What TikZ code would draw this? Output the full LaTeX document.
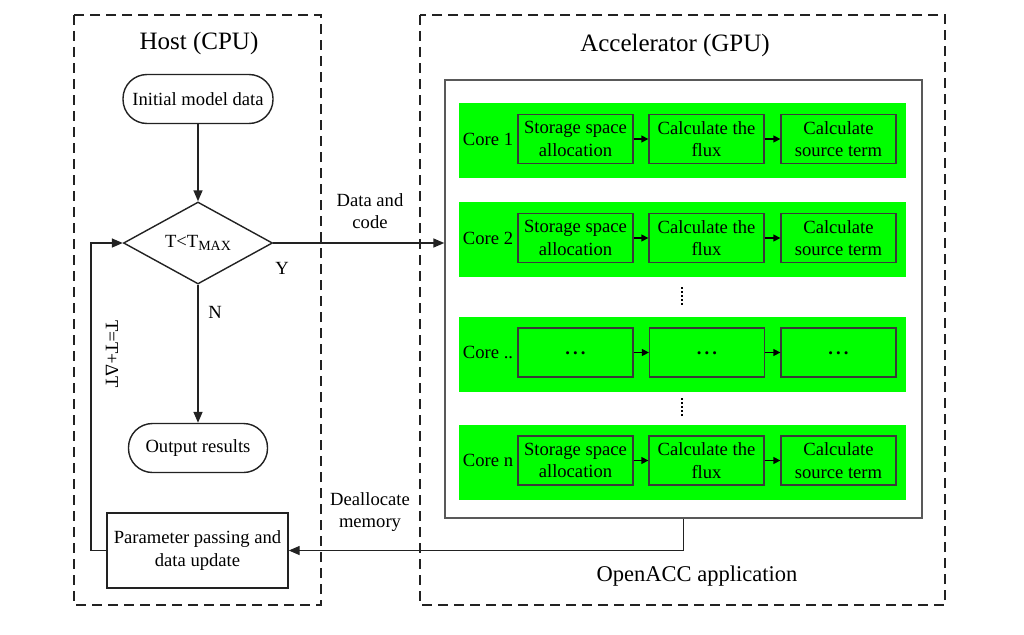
\documentclass[tikz,border=0pt]{standalone}
\usepackage{fontspec}
\setmainfont{Liberation Serif}
\usetikzlibrary{shapes.geometric,arrows.meta}
\definecolor{bandgreen}{HTML}{00FF00}
\definecolor{boxgrey}{HTML}{3A3A3A}
\definecolor{linegrey}{HTML}{222222}
\tikzset{
  x=1pt,y=-1pt,
  every node/.style={font=\fontsize{18.6}{22.5}\selectfont, align=center},
  dashbox/.style={draw=linegrey, line width=1.4pt, dash pattern=on 10pt off 6pt},
  flow/.style={draw=linegrey, line width=1.4pt, inner sep=0pt},
  term/.style={flow, rounded corners=24pt, minimum height=49pt},
  decis/.style={flow, diamond, aspect=1.8, minimum width=149pt, minimum height=82pt},
  procbox/.style={flow, minimum width=181pt, minimum height=75pt},
  gpubox/.style={draw=black!65, line width=1.4pt, minimum width=477pt, minimum height=438pt, inner sep=0pt},
  band/.style={fill=bandgreen, minimum width=447pt, minimum height=75pt, inner sep=0pt},
  stepbox/.style={draw=boxgrey, line width=1.3pt, minimum width=115pt, minimum height=49pt, inner sep=0pt},
  arr/.style={line width=1.4pt, draw=linegrey, -{Triangle[length=11pt,width=9pt]}},
  sarr/.style={line width=1.3pt, draw=black, -{Triangle[length=7pt,width=7pt]}},
  vdots/.style={line width=2.4pt, dash pattern=on 2pt off 2pt},
}
\begin{document}
\begin{tikzpicture}
\useasboundingbox[fill=white] (0,0) rectangle (1024,634);
% dashed containers
\draw[dashbox] (74,15) rectangle (321,605);
\draw[dashbox] (420,15) rectangle (945,605);
\node[font=\fontsize{25}{29}\selectfont] (hosttitle) at (199,43) {Host (CPU)};
\node[font=\fontsize{25}{29}\selectfont] (acctitle) at (675,45) {Accelerator (GPU)};
\node[font=\fontsize{22.5}{26}\selectfont] (openacc) at (697,576) {OpenACC application};
% host flow
\node[term, minimum width=150pt] (init) at (198,99) {Initial model data};
\node[decis] (dec) at (198,243) {T<T\raisebox{-0.35ex}{\fontsize{14}{16}\selectfont MAX}};
\node[term, minimum width=139pt] (out) at (198,448) {Output results};
\node[procbox] (param) at (197.5,550.5) {Parameter passing and\\data update};
\coordinate (loopc) at (91,243);
\draw[arr] (init) -- (dec);
\draw[arr] (dec) -- (out);
\node (nlab) at (215,312) {N};
\node (ylab) at (282,268) {Y};
\draw[arr] (param.west) -| (loopc) -- (dec.west);
\node[rotate=-90] (tlab) at (112,354) {T=T+ΔT};
% GPU
\node[gpubox] (gpu) at (683.5,299) {};
\foreach \n/\yc/\lab in {b1/140.5/Core 1, b2/239.5/Core 2, b3/354/Core .., b4/462/Core n}{
  \node[band] (\n) at (682.5,\yc) {};
  \node (\n lab) at (488,\yc-1.5) {\lab};
}
\foreach \n in {b1,b2,b4}{
  \node[stepbox] (\n s1) at (575.5,0 |- \n) [yshift=1.5pt] {Storage space\\allocation};
  \node[stepbox] (\n s2) at (706.5,0 |- \n) [yshift=1.5pt] {Calculate the\\flux};
  \node[stepbox] (\n s3) at (838.5,0 |- \n) [yshift=1.5pt] {Calculate\\source term};
}
\foreach \i in {1,2,3}{
  \node[stepbox] (b3s\i) at (575.5+131.5*\i-131.5,0 |- b3) [yshift=1.5pt] {\raisebox{-0.6ex}{\textbf{.\,.\,.}}};
}
\foreach \n in {b1,b2,b3,b4}{
  \draw[sarr] (\n s1) -- (\n s2);
  \draw[sarr] (\n s2) -- (\n s3);
}
\coordinate (d1a) at (682,287); \coordinate (d1b) at (682,306);
\coordinate (d2a) at (682,398); \coordinate (d2b) at (682,417);
\draw[vdots] (d1a) -- (d1b);
\draw[vdots] (d2a) -- (d2b);
% transfers
\draw[arr] (dec.east) -- (dec.east -| gpu.west);
\node (datacode) at (370,211) {Data and\\code};
\draw[arr] (gpu.south) |- (param.east);
\node (dealloc) at (370,512) {Deallocate\\memory};
\end{tikzpicture}
\end{document}
